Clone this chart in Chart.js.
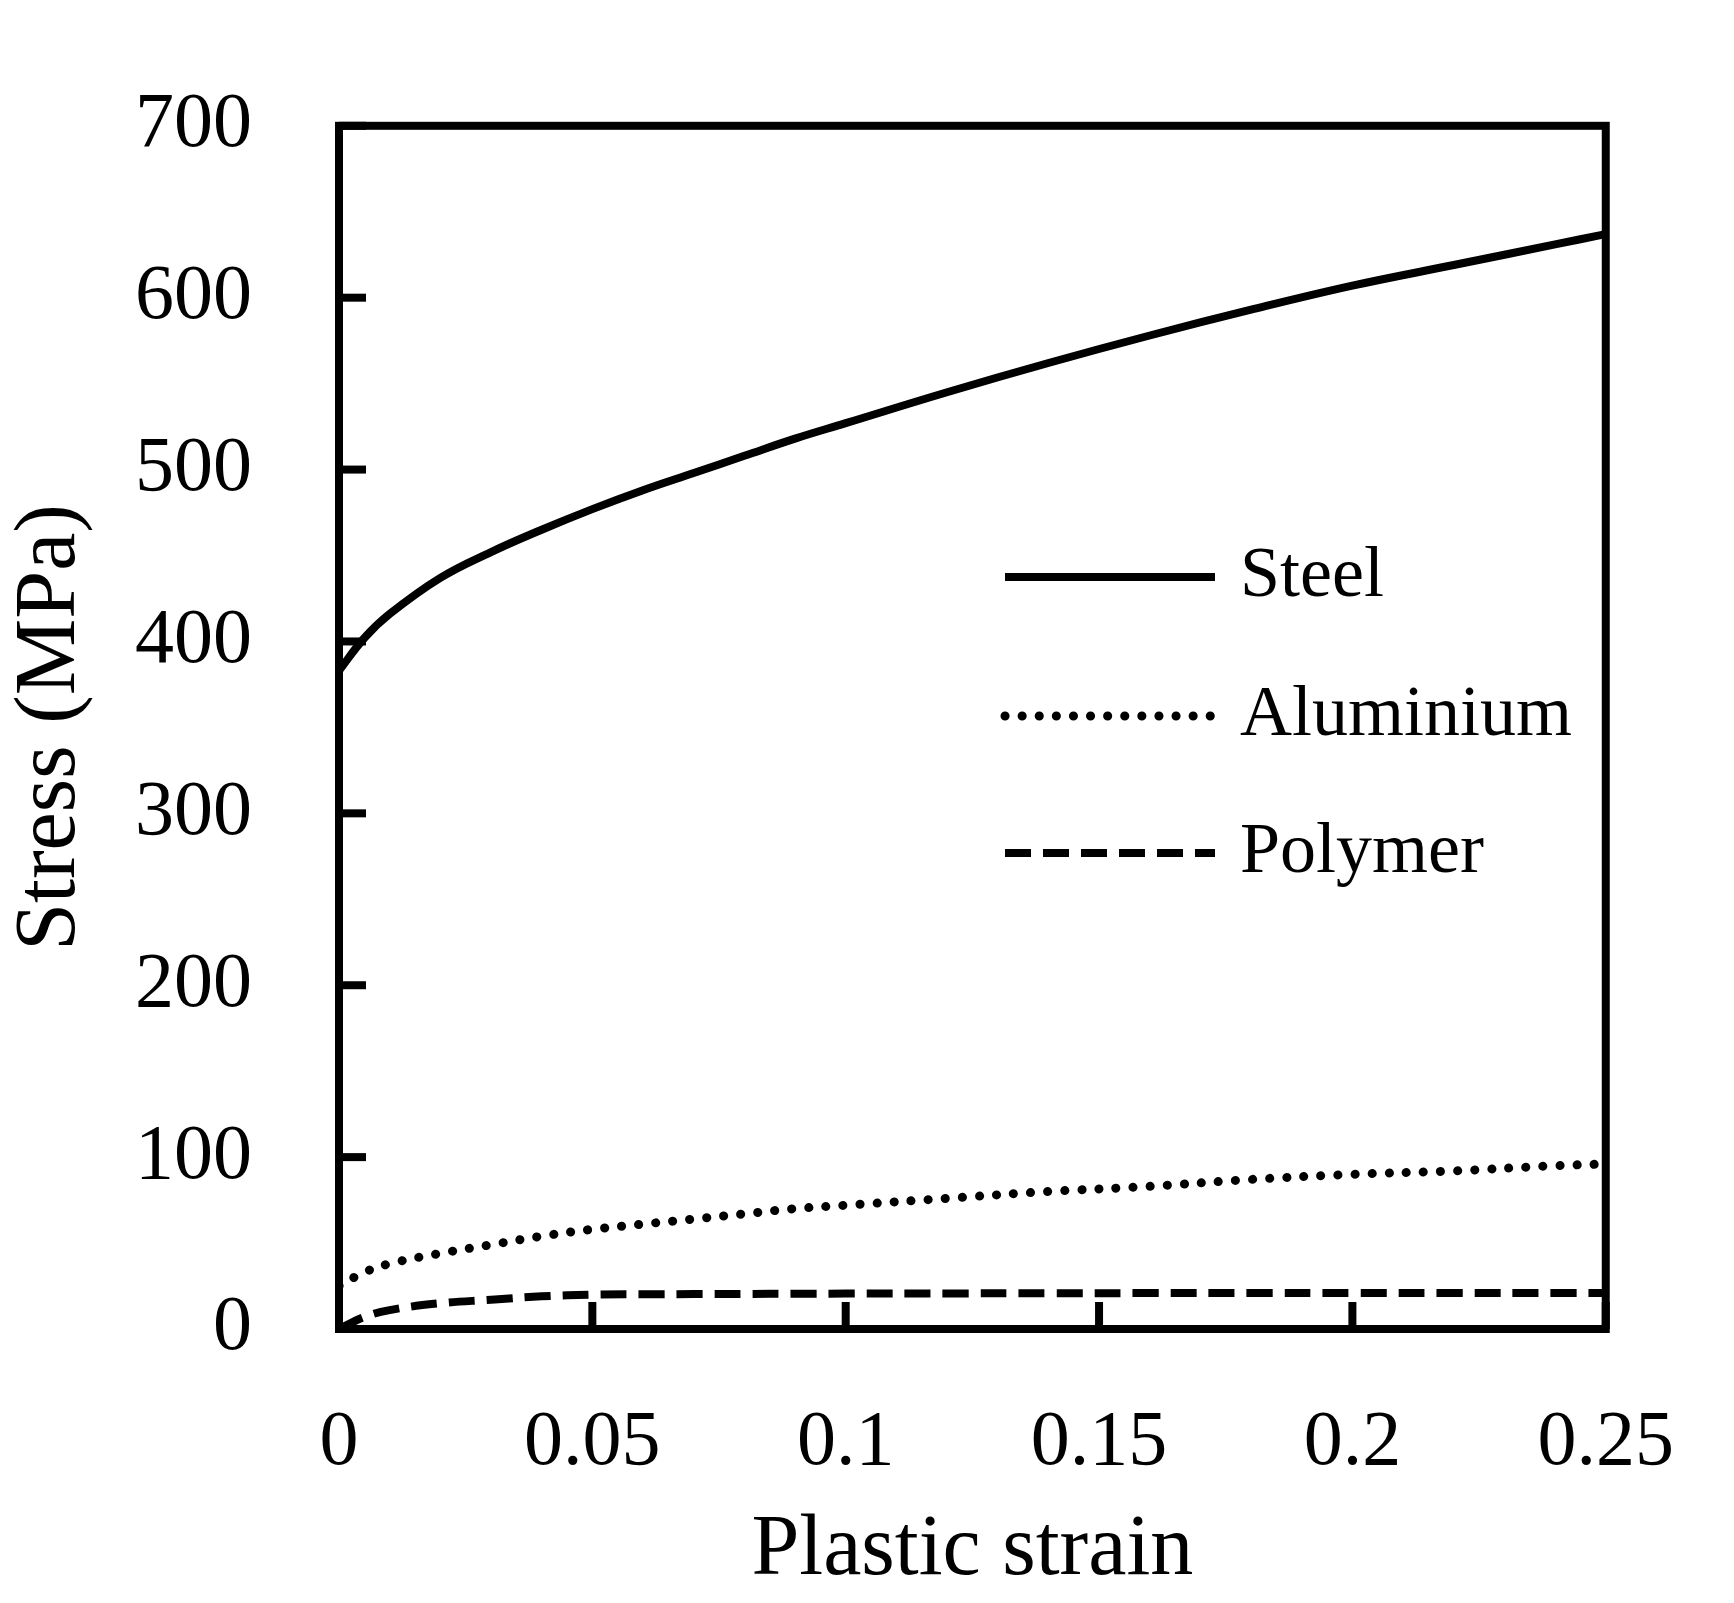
<!DOCTYPE html>
<html><head><meta charset="utf-8">
<script src="https://cdn.jsdelivr.net/npm/chart.js@4/dist/chart.umd.min.js"></script>
<style>html,body{margin:0;padding:0;background:#fff}#w{width:1734px;height:1603px}</style>
</head><body><div id="w"><canvas id="c"></canvas></div>
<script>
const strain = [0,0.005,0.01,0.02,0.03,0.04,0.05,0.06,0.07,0.08,0.09,0.1,0.12,0.14,0.16,0.18,0.2,0.22,0.24,0.25];
const steel = [383,402,416,437,452,465,477,488,498,508,518,527,545,562,578,593,607,619,631,637];
const aluminium = [25,33,38,44,49,54,58,61,64,67,70,72,76,80,83,87,90,92,95,96];
const polymer = [0,7,11,15,17,19,20,20.2,20.3,20.4,20.5,20.6,20.7,20.8,20.9,21,21,21,21,21];
const xTicks = [0,0.05,0.1,0.15,0.2,0.25];
const yTicks = [0,100,200,300,400,500,600,700];
const names = ['Steel','Aluminium','Polymer'];
const dashes = [[],[0.1,17],[26,12]];
const font = "'Liberation Serif', serif";
const pts = a => strain.map((x,i)=>({x, y:a[i]}));
const frame = {
  id:'frame',
  afterDatasetsDraw(ch){
    const {ctx, chartArea:a, scales:{x,y}} = ch;
    ctx.save(); ctx.strokeStyle='#000'; ctx.lineWidth=8; ctx.lineCap='butt';
    ctx.strokeRect(a.left,a.top,a.right-a.left,a.bottom-a.top);
    xTicks.forEach(v=>{const p=x.getPixelForValue(v); ctx.beginPath(); ctx.moveTo(p,a.bottom); ctx.lineTo(p,a.bottom-27); ctx.stroke();});
    yTicks.forEach(v=>{const p=y.getPixelForValue(v); ctx.beginPath(); ctx.moveTo(a.left,p); ctx.lineTo(a.left+27,p); ctx.stroke();});
    const rows=[577,716,853];
    ctx.font = "72px "+font; ctx.fillStyle='#000'; ctx.textBaseline='middle';
    names.forEach((n,i)=>{
      ctx.setLineDash(dashes[i]); ctx.lineCap = i===1?'round':'butt'; ctx.lineWidth=i===1?9:8;
      ctx.beginPath(); ctx.moveTo(1005,rows[i]); ctx.lineTo(1215,rows[i]); ctx.stroke();
      ctx.setLineDash([]);
      ctx.fillText(n,1240,rows[i]);
    });
    ctx.restore();
  }
};
new Chart(document.getElementById('c'),{
  type:'line',
  data:{datasets:[steel,aluminium,polymer].map((d,i)=>({
    label:names[i], data:pts(d), borderColor:'#000', borderWidth:i===1?9:8,
    borderDash:dashes[i], borderCapStyle:i===1?'round':'butt', pointRadius:0, tension:0.4, fill:false}))},
  options:{
    responsive:true, maintainAspectRatio:false, animation:false,
    layout:{padding:{top:-31,right:20,left:0,bottom:0}},
    plugins:{legend:{display:false},tooltip:{enabled:false}},
    scales:{
      x:{type:'linear',min:0,max:0.25,
        afterBuildTicks:s=>{s.ticks=xTicks.map(v=>({value:v}));},
        grid:{display:false}, border:{display:false},
        ticks:{color:'#000',font:{family:font,size:78},padding:60,maxRotation:0,callback:v=>String(v)},
        title:{display:true,text:'Plastic strain',color:'#000',font:{family:font,size:86},padding:{top:20,bottom:0}},
        afterFit:s=>{s.height=1603-1329;}},
      y:{min:0,max:700,
        afterBuildTicks:s=>{s.ticks=yTicks.map(v=>({value:v}));},
        grid:{display:false}, border:{display:false},
        ticks:{color:'#000',font:{family:font,size:78},padding:79},
        title:{display:true,text:'Stress (MPa)',color:'#000',font:{family:font,size:86},padding:{top:0,bottom:0}},
        afterFit:s=>{s.width=339;}}
    }
  },
  plugins:[frame]
});
</script></body></html>
